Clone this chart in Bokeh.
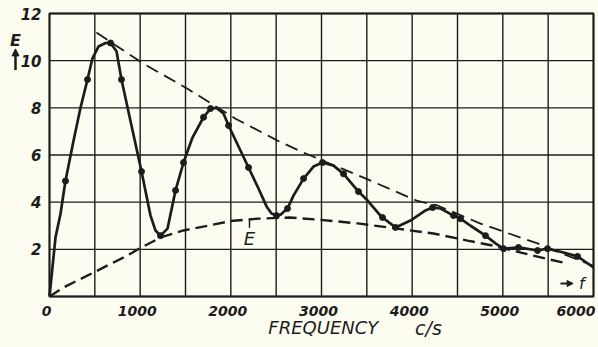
import numpy as np
from bokeh.plotting import figure
from bokeh.models import Range1d, Arrow, NormalHead
from bokeh.core.properties import value
from bokeh.embed import file_html
from bokeh.resources import INLINE

# ---- data ----
curve_f = [0, 66, 121, 176, 265, 342, 419, 474, 540, 618, 673, 739, 794, 904, 1015,
           1114, 1169, 1224, 1302, 1390, 1478, 1577, 1699, 1776, 1842, 1919, 1975,
           2085, 2195, 2305, 2394, 2449, 2504, 2548, 2625, 2691, 2802, 2912, 3011,
           3133, 3243, 3408, 3508, 3629, 3673, 3816, 3982, 4147, 4225, 4313, 4456,
           4533, 4644, 4809, 4919, 5008, 5173, 5383, 5493, 5636, 5824, 6000]
curve_e = [0, 2.5, 3.5, 4.9, 6.6, 8.0, 9.2, 10.1, 10.6, 10.75, 10.75, 10.4, 9.2, 7.25, 5.3,
           3.43, 2.8, 2.58, 2.88, 4.5, 5.68, 6.74, 7.6, 7.97, 8.0, 7.76, 7.25,
           6.36, 5.47, 4.58, 3.82, 3.52, 3.43, 3.47, 3.73, 4.28, 5.0, 5.51, 5.68,
           5.55, 5.2, 4.45, 4.07, 3.52, 3.35, 2.93, 3.22, 3.65, 3.77, 3.73, 3.43,
           3.3, 3.0, 2.58, 2.25, 2.03, 2.08, 1.95, 2.03, 1.9, 1.7, 1.23]

dot_f = [176, 419, 673, 794, 1015, 1224, 1390, 1478, 1699, 1776, 1975, 2195, 2504,
         2625, 2802, 3011, 3243, 3408, 3673, 3816, 4225, 4456, 4533, 4809, 5008,
         5173, 5383, 5493, 5824]
dot_e = [4.9, 9.2, 10.75, 9.2, 5.3, 2.58, 4.5, 5.68, 7.6, 7.97, 7.25, 5.47, 3.43,
         3.73, 5.0, 5.68, 5.2, 4.45, 3.35, 2.93, 3.77, 3.43, 3.3, 2.58, 2.03,
         2.08, 1.95, 2.03, 1.7]

upper_f = [518, 1037, 1522, 2052, 2515, 2802, 3464, 4059, 4280, 4754, 5383, 5500, 6000]
upper_e = [11.19, 9.87, 8.81, 7.54, 6.61, 6.10, 5.04, 4.05, 3.86, 3.09, 2.25, 2.05, 1.3]

lower_f = [0, 154, 529, 860, 1004, 1224, 1478, 1743, 1997, 2300, 2650, 2989, 3397,
           3794, 4236, 4611, 4886, 5000, 5471, 5714]
lower_e = [0, 0.38, 1.1, 1.74, 2.06, 2.5, 2.8, 3.0, 3.2, 3.3, 3.35, 3.25, 3.1,
           2.9, 2.67, 2.37, 2.16, 2.05, 1.61, 1.4]

x_ticks = [0, 1000, 2000, 3000, 4000, 5000, 6000]
x_tick_labels = ["0", "1000", "2000", "3000", "4000", "5000", "6000"]
y_ticks = [2, 4, 6, 8, 10, 12]
y_tick_labels = ["2", "4", "6", "8", "10", "12"]
x_grid = list(range(0, 6001, 500))
y_grid = list(range(0, 13, 2))

INK = "#1c1c1c"
PAPER = "#fcfcf1"
FONT = "DejaVu Sans"

W, H = 598, 347
# plot area of the chart inside the page: data box 0..6000 x 0..12
left_px, right_px, top_px, bottom_px = 49, 593, 13, 296
sx = (x_grid[-1] - x_grid[0]) / (right_px - left_px)
sy = (y_grid[-1] - y_grid[0]) / (bottom_px - top_px)
x_range = Range1d(x_grid[0] - left_px * sx, x_grid[-1] + (W - right_px) * sx)
y_range = Range1d(y_grid[0] - (H - bottom_px) * sy, y_grid[-1] + top_px * sy)

p = figure(width=W, height=H, output_backend="svg", toolbar_location=None,
           x_range=x_range, y_range=y_range,
           min_border=0)
p.background_fill_color = PAPER
p.border_fill_color = PAPER
p.outline_line_color = None
p.axis.visible = False
p.grid.visible = False

# grid (from the grid arrays)
p.segment(x0=x_grid, y0=[y_grid[0]] * len(x_grid), x1=x_grid, y1=[y_grid[-1]] * len(x_grid),
          line_color=INK, line_width=1.4)
p.segment(x0=[x_grid[0]] * len(y_grid), y0=y_grid, x1=[x_grid[-1]] * len(y_grid), y1=y_grid,
          line_color=INK, line_width=1.4)
p.quad(left=[x_grid[0]], right=[x_grid[-1]], bottom=[y_grid[0]], top=[y_grid[-1]],
       fill_color=None, line_color=INK, line_width=2)

# envelopes
p.line(upper_f, upper_e, line_color=INK, line_width=1.8, line_dash="13 7")
p.line(lower_f, lower_e, line_color=INK, line_width=2.4, line_dash="12 6")

# measured curve
p.line(curve_f, curve_e, line_color=INK, line_width=2.7, line_join="round")
p.scatter(dot_f, dot_e, size=6, color=INK)

# tick labels
p.text(x=[x_grid[0]] * len(y_ticks), y=y_ticks, text=y_tick_labels, x_offset=-8,
       text_align="right", text_baseline="middle", text_font=value(FONT),
       text_font_style="bold italic", text_font_size="15px", text_color=INK)
n = len(x_ticks)
p.text(x=x_ticks[:-1], y=[y_grid[0]] * (n - 1), text=x_tick_labels[:-1], x_offset=-3,
       y_offset=14, text_align="center", text_baseline="middle", text_font=value(FONT),
       text_font_style="bold italic", text_font_size="14px", text_color=INK)
p.text(x=x_ticks[-1:], y=[y_grid[0]], text=x_tick_labels[-1:], x_offset=2,
       y_offset=14, text_align="right", text_baseline="middle", text_font=value(FONT),
       text_font_style="bold italic", text_font_size="14px", text_color=INK)

# axis title
p.text(x=[3020], y=[0], y_offset=31, text=["FREQUENCY"], text_align="center",
       text_baseline="middle", text_font=value(FONT), text_font_style="italic",
       text_font_size="18px", text_color=INK)
p.text(x=[4180], y=[0], y_offset=31, text=["c/s"], text_align="center",
       text_baseline="middle", text_font=value(FONT), text_font_style="italic",
       text_font_size="19px", text_color=INK)

# E with up arrow at the left
p.text(x=[0], y=[12], x_offset=-34, y_offset=27, text=["E"], text_align="center",
       text_baseline="middle", text_font=value(FONT), text_font_style="bold italic",
       text_font_size="16px", text_color=INK)
p.add_layout(Arrow(x_start=-375, y_start=9.6, x_end=-375, y_end=10.5,
                   line_color=INK, line_width=2.5,
                   end=NormalHead(size=7, fill_color=INK, line_color=INK)))

# E label on the lower curve
lab_f = 2206
top = float(np.interp(lab_f, lower_f, lower_e))
p.text(x=[lab_f], y=[top], y_offset=19, text=["E"], text_align="center",
       text_baseline="middle", text_font=value(FONT), text_font_style="italic",
       text_font_size="18px", text_color=INK)
p.segment(x0=[lab_f], y0=[top], x1=[lab_f], y1=[top - 0.35], line_color=INK, line_width=1.5)

# -> f
p.add_layout(Arrow(x_start=5636, y_start=0.55, x_end=5775, y_end=0.55,
                   line_color=INK, line_width=2,
                   end=NormalHead(size=6, fill_color=INK, line_color=INK)))
p.text(x=[5870], y=[0.55], text=["f"], text_align="center",
       text_baseline="middle", text_font=value(FONT), text_font_style="italic",
       text_font_size="16px", text_color=INK)

html = file_html(p, INLINE)
html = html.replace("<head>", "<head><style>html,body{margin:0;padding:0;background:%s}</style>" % PAPER, 1)
open("out.html", "w").write(html)
